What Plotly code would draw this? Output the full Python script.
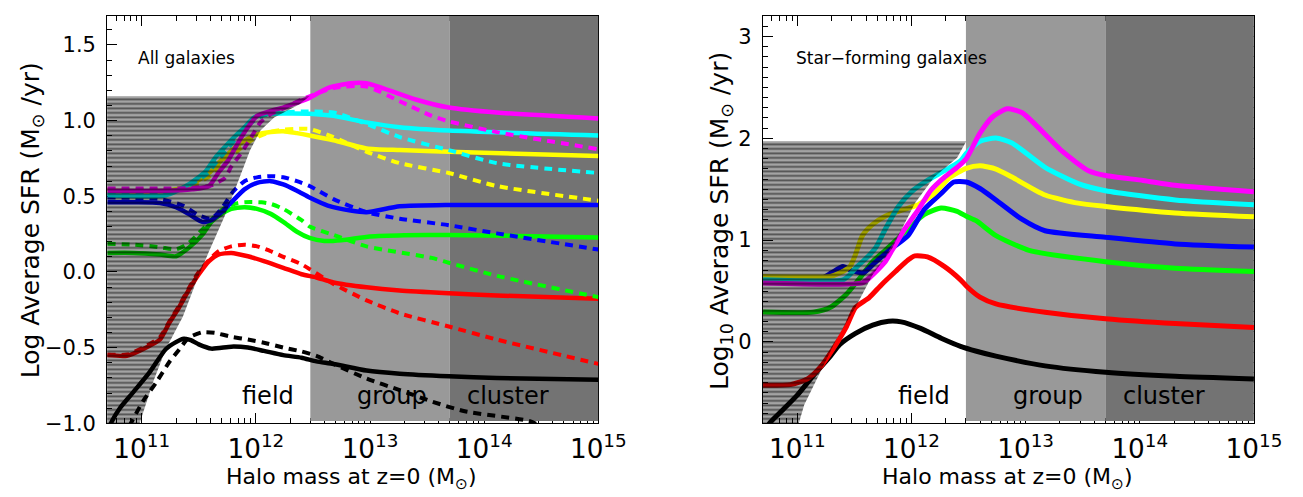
import plotly.graph_objects as go

W, H = 1303, 497
OFF = 0
FW, FH = W - OFF, H - OFF

# ---------------- DATA: log10(halo mass) and log SFR ----------------
# Left panel: all galaxies (solid and dashed)
L_black_x = [10.72, 10.74, 10.81, 10.93, 11.07, 11.21, 11.30, 11.37, 11.43, 11.50, 11.61, 11.785, 11.93, 12.07, 12.24, 12.40, 12.53, 12.68, 12.97, 13.26, 13.69, 14.11, 15.0]
L_black_y = [-1.02, -0.984, -0.898, -0.790, -0.661, -0.510, -0.463, -0.441, -0.450, -0.478, -0.506, -0.493, -0.499, -0.521, -0.549, -0.566, -0.590, -0.607, -0.651, -0.672, -0.689, -0.700, -0.711]
L_black_d_x = [10.89, 11.01, 11.13, 11.24, 11.33, 11.41, 11.53, 11.64, 11.785, 11.93, 12.07, 12.24, 12.40, 12.53, 12.68, 12.97, 13.26, 13.54, 13.83, 14.40, 14.5]
L_black_d_y = [-1.02, -0.855, -0.726, -0.596, -0.510, -0.435, -0.398, -0.402, -0.428, -0.446, -0.467, -0.499, -0.525, -0.554, -0.607, -0.704, -0.780, -0.855, -0.920, -0.985, -1.02]

L_red_x = [10.70, 10.87, 11.01, 11.16, 11.24, 11.33, 11.41, 11.50, 11.59, 11.67, 11.785, 11.93, 12.07, 12.24, 12.40, 12.53, 12.68, 12.97, 13.26, 13.69, 14.11, 15.0]
L_red_y = [-0.549, -0.553, -0.510, -0.446, -0.338, -0.230, -0.122, -0.015, 0.072, 0.115, 0.126, 0.104, 0.072, 0.028, -0.015, -0.036, -0.069, -0.101, -0.122, -0.140, -0.155, -0.176]
L_red_d_x = [10.70, 10.87, 11.01, 11.16, 11.24, 11.33, 11.41, 11.50, 11.59, 11.68, 11.785, 11.90, 12.01, 12.13, 12.24, 12.40, 12.68, 12.97, 13.26, 13.69, 14.11, 15.0]
L_red_d_y = [-0.545, -0.545, -0.50, -0.43, -0.33, -0.22, -0.11, 0.0, 0.08, 0.14, 0.169, 0.180, 0.169, 0.137, 0.100, 0.051, -0.079, -0.187, -0.273, -0.360, -0.446, -0.607]

L_green_x = [10.70, 10.93, 11.16, 11.30, 11.41, 11.53, 11.61, 11.70, 11.785, 11.90, 12.01, 12.13, 12.24, 12.36, 12.47, 12.60, 12.75, 13.0, 13.3, 13.69, 14.3, 15.0]
L_green_y = [0.126, 0.126, 0.115, 0.104, 0.158, 0.245, 0.331, 0.384, 0.417, 0.428, 0.417, 0.384, 0.331, 0.266, 0.225, 0.205, 0.21, 0.235, 0.243, 0.245, 0.238, 0.228]
L_green_d_x = [10.70, 10.93, 11.16, 11.30, 11.41, 11.53, 11.63, 11.72, 11.84, 11.95, 12.05, 12.13, 12.24, 12.40, 12.47, 12.68, 12.97, 13.54, 13.69, 14.11, 15.0]
L_green_d_y = [0.186, 0.18, 0.164, 0.150, 0.19, 0.28, 0.36, 0.42, 0.455, 0.462, 0.460, 0.450, 0.417, 0.342, 0.300, 0.245, 0.169, 0.093, 0.061, -0.025, -0.166]

L_blue_x = [10.70, 10.93, 11.16, 11.30, 11.41, 11.53, 11.61, 11.70, 11.785, 11.90, 12.01, 12.13, 12.24, 12.36, 12.47, 12.63, 12.83, 12.97, 13.26, 13.69, 15.0]
L_blue_y = [0.460, 0.460, 0.456, 0.428, 0.384, 0.331, 0.342, 0.395, 0.460, 0.546, 0.589, 0.600, 0.578, 0.536, 0.492, 0.439, 0.406, 0.395, 0.434, 0.443, 0.443]
L_blue_d_x = [10.70, 11.16, 11.36, 11.50, 11.61, 11.70, 11.80, 11.90, 12.01, 12.13, 12.24, 12.36, 12.47, 12.68, 12.97, 13.26, 13.69, 14.11, 15.0]
L_blue_d_y = [0.492, 0.481, 0.439, 0.374, 0.352, 0.42, 0.53, 0.60, 0.625, 0.633, 0.626, 0.600, 0.568, 0.481, 0.395, 0.352, 0.309, 0.255, 0.148]

L_yellow_x = [10.70, 11.21, 11.41, 11.59, 11.70, 11.84, 11.985, 12.13, 12.24, 12.36, 12.47, 12.68, 12.97, 13.26, 13.69, 15.0]
L_yellow_y = [0.536, 0.536, 0.568, 0.654, 0.740, 0.837, 0.902, 0.924, 0.930, 0.917, 0.902, 0.870, 0.816, 0.805, 0.794, 0.766]
L_yellow_d_x = [10.70, 11.21, 11.41, 11.59, 11.70, 11.84, 11.985, 12.13, 12.24, 12.36, 12.47, 12.68, 12.97, 13.26, 13.69, 14.11, 15.0]
L_yellow_d_y = [0.545, 0.545, 0.56, 0.63, 0.71, 0.80, 0.88, 0.925, 0.94, 0.945, 0.945, 0.891, 0.794, 0.719, 0.654, 0.568, 0.471]

L_cyan_x = [10.70, 11.21, 11.41, 11.56, 11.64, 11.73, 11.81, 11.90, 11.985, 12.10, 12.24, 12.47, 12.68, 12.97, 13.26, 13.69, 15.0]
L_cyan_y = [0.507, 0.507, 0.578, 0.665, 0.751, 0.827, 0.891, 0.956, 1.021, 1.043, 1.047, 1.045, 1.031, 0.988, 0.956, 0.934, 0.902]
L_cyan_d_x = [10.70, 11.21, 11.41, 11.56, 11.66, 11.76, 11.86, 11.95, 12.05, 12.20, 12.40, 12.68, 12.97, 13.26, 13.69, 14.11, 15.0]
L_cyan_d_y = [0.515, 0.515, 0.57, 0.64, 0.73, 0.82, 0.91, 0.98, 1.03, 1.05, 1.060, 1.053, 0.978, 0.891, 0.805, 0.719, 0.654]

L_magenta_x = [10.70, 11.21, 11.44, 11.59, 11.67, 11.76, 11.84, 11.93, 12.01, 12.13, 12.24, 12.36, 12.47, 12.63, 12.83, 12.97, 13.11, 13.40, 13.69, 14.11, 15.0]
L_magenta_y = [0.536, 0.536, 0.546, 0.568, 0.654, 0.740, 0.848, 0.956, 1.031, 1.064, 1.086, 1.118, 1.150, 1.215, 1.247, 1.247, 1.215, 1.139, 1.086, 1.053, 1.014]
L_magenta_d_x = [10.70, 11.21, 11.44, 11.60, 11.73, 11.785, 11.87, 11.96, 12.04, 12.13, 12.24, 12.40, 12.68, 12.97, 13.26, 13.54, 13.69, 14.11, 15.0]
L_magenta_d_y = [0.551, 0.551, 0.555, 0.57, 0.622, 0.697, 0.783, 0.891, 0.988, 1.043, 1.08, 1.139, 1.215, 1.225, 1.128, 1.031, 0.995, 0.924, 0.811]

# Right panel: star-forming galaxies (solid)
R_black_x = [10.74, 10.76, 10.86, 11.0, 11.14, 11.29, 11.37, 11.51, 11.66, 11.80, 11.91, 12.08, 12.26, 12.43, 12.57, 12.74, 13.17, 13.70, 14.31, 15.0]
R_black_y = [-0.83, -0.793, -0.681, -0.522, -0.330, -0.139, -0.027, 0.085, 0.165, 0.203, 0.197, 0.133, 0.037, -0.043, -0.091, -0.139, -0.235, -0.298, -0.337, -0.363]
R_red_x = [10.70, 10.94, 11.09, 11.20, 11.31, 11.43, 11.51, 11.63, 11.74, 11.86, 11.97, 12.03, 12.14, 12.29, 12.43, 12.48, 12.60, 12.74, 13.17, 13.70, 14.31, 15.0]
R_red_y = [-0.426, -0.419, -0.362, -0.250, -0.074, 0.149, 0.340, 0.436, 0.565, 0.692, 0.804, 0.845, 0.836, 0.74, 0.61, 0.55, 0.44, 0.373, 0.292, 0.229, 0.181, 0.143]
R_green_x = [10.70, 11.14, 11.29, 11.43, 11.57, 11.66, 11.77, 11.91, 12.11, 12.26, 12.40, 12.48, 12.57, 12.74, 13.03, 13.70, 14.31, 15.0]
R_green_y = [0.293, 0.293, 0.340, 0.469, 0.660, 0.788, 0.900, 1.044, 1.251, 1.315, 1.283, 1.235, 1.188, 1.044, 0.900, 0.788, 0.724, 0.692]
R_blue_x = [10.70, 11.20, 11.30, 11.40, 11.48, 11.58, 11.68, 11.83, 11.97, 12.11, 12.26, 12.37, 12.48, 12.60, 12.74, 12.97, 13.17, 13.70, 14.31, 15.0]
R_blue_y = [0.62, 0.62, 0.68, 0.74, 0.70, 0.68, 0.78, 0.92, 1.044, 1.299, 1.459, 1.571, 1.571, 1.507, 1.395, 1.203, 1.092, 1.028, 0.963, 0.932]
R_yellow_x = [10.70, 11.29, 11.37, 11.46, 11.51, 11.57, 11.66, 11.77, 11.885, 12.0, 12.06, 12.20, 12.34, 12.48, 12.60, 12.74, 12.88, 13.17, 13.46, 13.70, 14.31, 15.0]
R_yellow_y = [0.644, 0.644, 0.676, 0.740, 0.860, 1.044, 1.155, 1.235, 1.283, 1.325, 1.347, 1.459, 1.619, 1.705, 1.730, 1.698, 1.619, 1.443, 1.363, 1.331, 1.267, 1.229]
R_cyan_x = [10.70, 11.40, 11.46, 11.51, 11.57, 11.63, 11.69, 11.77, 11.885, 12.0, 12.14, 12.29, 12.43, 12.48, 12.60, 12.74, 12.88, 13.17, 13.46, 13.70, 14.31, 15.0]
R_cyan_y = [0.61, 0.61, 0.66, 0.724, 0.788, 0.852, 0.932, 1.107, 1.331, 1.475, 1.586, 1.682, 1.778, 1.85, 1.970, 2.002, 1.954, 1.715, 1.555, 1.485, 1.395, 1.347]
R_magenta_x = [10.70, 11.57, 11.63, 11.69, 11.77, 11.83, 11.94, 12.06, 12.17, 12.29, 12.40, 12.48, 12.60, 12.71, 12.84, 12.97, 13.09, 13.32, 13.55, 13.70, 14.03, 14.31, 15.0]
R_magenta_y = [0.580, 0.580, 0.628, 0.692, 0.788, 0.900, 1.107, 1.299, 1.490, 1.619, 1.715, 1.800, 2.050, 2.209, 2.290, 2.251, 2.130, 1.874, 1.682, 1.634, 1.586, 1.538, 1.475]

# Incompleteness (hatched) regions: boundary in (log mass, log SFR)
L_hatch_x = [10.69, 10.96, 11.10, 11.21, 11.36, 11.47, 11.59, 11.73, 11.84, 11.95, 12.04, 12.16, 12.27, 12.38, 12.47, 10.69]
L_hatch_y = [-1.05, -1.05, -0.726, -0.510, -0.295, -0.079, 0.137, 0.374, 0.589, 0.805, 0.934, 1.021, 1.064, 1.107, 1.161, 1.161]
R_hatch_x = [10.69, 11.0, 11.06, 11.20, 11.34, 11.51, 11.66, 11.83, 11.885, 12.03, 12.20, 12.40, 12.48, 10.69]
R_hatch_y = [-0.85, -0.85, -0.618, -0.298, 0.021, 0.340, 0.660, 0.915, 1.044, 1.363, 1.619, 1.810, 1.970, 1.970]

# Environment bins (log halo mass)
env_edges = [12.477, 13.699, 15.0]
env_colors = ["#999999", "#737373"]
env_labels = ["field", "group", "cluster"]

L_range = [-1.0, 1.69]
R_range = [-0.8, 3.2]
x_range = [10.697, 15.0]

colors = {"black": "#000000", "red": "#ff0000", "green": "#00ff00", "blue": "#0000ff",
          "yellow": "#ffff00", "cyan": "#00ffff", "magenta": "#ff00ff"}

fig = go.Figure()


def m(v):
    return [10 ** a for a in v]


def px2x(px):
    return (px - OFF) / FW


def py2y(py):
    return 1 - (py - OFF) / FH


def add_env(xa, ya, yr):
    lo = yr[0] + 0.006 * (yr[1] - yr[0])
    hi = yr[1] + 0.5
    for i in range(2):
        a, b = env_edges[i], env_edges[i + 1]
        fig.add_trace(go.Scatter(x=m([a, b, b, a, a]), y=[lo, lo, hi, hi, lo], xaxis=xa, yaxis=ya,
                                 mode="lines", fill="toself", fillcolor=env_colors[i],
                                 line=dict(width=0), hoverinfo="skip"))


add_env("x", "y", L_range)
add_env("x2", "y2", R_range)

left_curves = [
    ("black", L_black_x, L_black_y, L_black_d_x, L_black_d_y),
    ("red", L_red_x, L_red_y, L_red_d_x, L_red_d_y),
    ("green", L_green_x, L_green_y, L_green_d_x, L_green_d_y),
    ("blue", L_blue_x, L_blue_y, L_blue_d_x, L_blue_d_y),
    ("yellow", L_yellow_x, L_yellow_y, L_yellow_d_x, L_yellow_d_y),
    ("cyan", L_cyan_x, L_cyan_y, L_cyan_d_x, L_cyan_d_y),
    ("magenta", L_magenta_x, L_magenta_y, L_magenta_d_x, L_magenta_d_y),
]
for name, sx, sy, dx, dy in left_curves:
    fig.add_trace(go.Scatter(x=m(sx), y=sy, xaxis="x", yaxis="y", mode="lines",
                             line=dict(color=colors[name], width=4.5, shape="spline", smoothing=0.6)))
    fig.add_trace(go.Scatter(x=m(dx), y=dy, xaxis="x", yaxis="y", mode="lines",
                             line=dict(color=colors[name], width=4, dash="8px,6px", shape="spline", smoothing=0.6)))

right_curves = [("black", R_black_x, R_black_y), ("red", R_red_x, R_red_y), ("green", R_green_x, R_green_y),
                ("blue", R_blue_x, R_blue_y), ("yellow", R_yellow_x, R_yellow_y),
                ("cyan", R_cyan_x, R_cyan_y), ("magenta", R_magenta_x, R_magenta_y)]
for name, sx, sy in right_curves:
    fig.add_trace(go.Scatter(x=m(sx), y=sy, xaxis="x2", yaxis="y2", mode="lines",
                             line=dict(color=colors[name], width=5, shape="spline", smoothing=0.6)))

hatch = dict(shape="-", fgcolor="black", bgcolor="rgba(0,0,0,0.36)", size=4.5, solidity=0.4)
for hx, hy, xa, ya in [(L_hatch_x, L_hatch_y, "x", "y"), (R_hatch_x, R_hatch_y, "x2", "y2")]:
    fig.add_trace(go.Scatter(x=m(hx), y=hy, xaxis=xa, yaxis=ya, mode="lines", fill="toself",
                             fillpattern=hatch, line=dict(width=0), hoverinfo="skip"))

FONT = "DejaVu Sans"
common_x = dict(type="log", range=x_range, showline=True, linecolor="black", linewidth=1, mirror="ticks",
                ticks="inside", ticklen=10, tickcolor="black", tickmode="linear", tick0=0, dtick=1,
                exponentformat="power", showexponent="all", tickfont=dict(size=21, family=FONT, color="black"),
                showgrid=False, zeroline=False, layer="below traces", ticklabelstandoff=3,
                minor=dict(ticks="inside", ticklen=5, tickcolor="black", dtick="D1", showgrid=False))
common_y = dict(showline=True, linecolor="black", linewidth=1, mirror="ticks", ticks="inside", ticklen=10,
                tickcolor="black", showgrid=False, zeroline=False, layer="below traces",
                tickfont=dict(size=21, family=FONT, color="black"), ticklabelstandoff=6,
                minor=dict(ticks="inside", ticklen=5, tickcolor="black", dtick=0.1, showgrid=False))

fig.update_layout(
    width=FW, height=FH, margin=dict(l=0, r=0, t=0, b=0), showlegend=False,
    paper_bgcolor="white", plot_bgcolor="white",
    xaxis=dict(common_x, domain=[px2x(101.3), px2x(603.3)], anchor="y"),
    yaxis=dict(common_y, domain=[py2y(425.7), py2y(8.3)], anchor="x", range=L_range, tickmode="linear",
               tick0=0, dtick=0.5, tickformat=".1f"),
    xaxis2=dict(common_x, domain=[px2x(771.3), px2x(1273.3)], anchor="y2"),
    yaxis2=dict(common_y, domain=[py2y(425.7), py2y(8.3)], anchor="x2", range=R_range, tickmode="linear",
                tick0=0, dtick=1, tickformat="d"),
)


def ann(text, px, py, size, angle=0):
    fig.add_annotation(text=text, x=px2x(px), y=py2y(py), xref="paper", yref="paper", showarrow=False,
                       textangle=angle, font=dict(family=FONT, size=size, color="black"),
                       xanchor="center", yanchor="middle")


ann("All galaxies", 182.7, 51.7, 17)
ann("Star\u2212forming galaxies", 902.5, 51.7, 17)
for off in (0, 670):
    ann("field", 266 + off, 398, 24)
    ann("group", 392.5 + off, 398, 24)
    ann("cluster", 511 + off, 398, 24)
    ann("Halo mass at z=0 (M<sub>\u2299</sub>)", 351 + off, 482, 22)
ann("Log Average SFR (M<sub>\u2299</sub> /yr)", 24, 217, 25, -90)
ann("Log<sub>10</sub> Average SFR (M<sub>\u2299</sub> /yr)", 728, 218, 25, -90)

fig.write_html("out.html")
